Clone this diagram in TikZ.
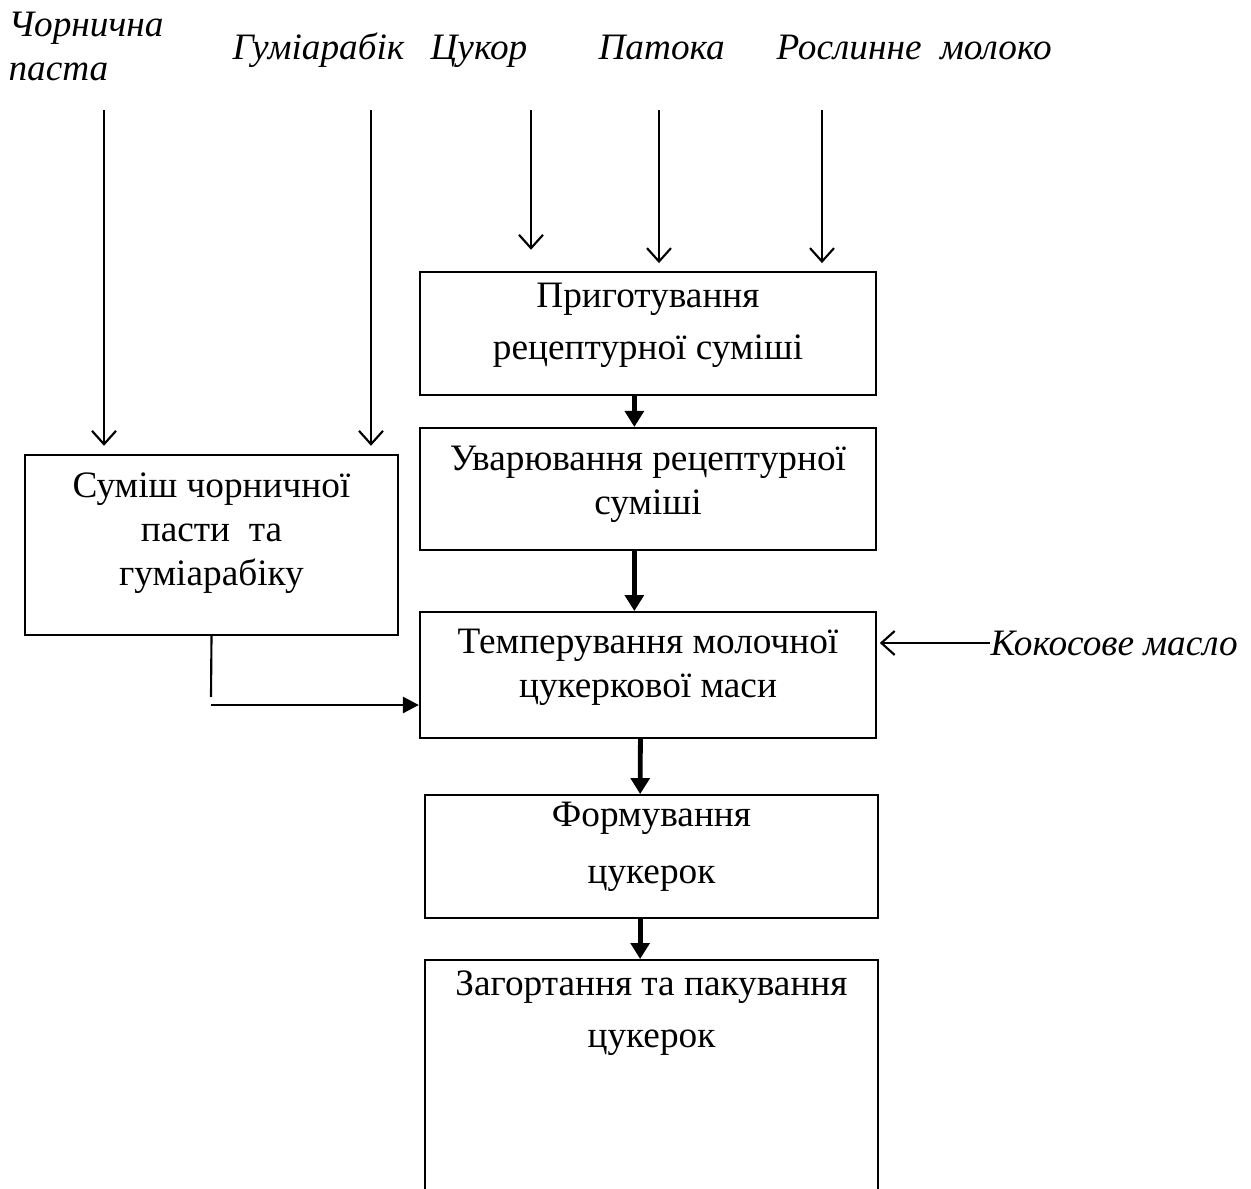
\documentclass[tikz,border=0pt]{standalone}
\usepackage{fontspec}
\setmainfont{Liberation Serif}
\usepackage{tikz}
\usetikzlibrary{positioning,arrows.meta}

\begin{document}
\begin{tikzpicture}[x=0.0132cm,y=-0.0132cm,
        stage/.style={draw, line width=0.8pt, minimum width=6.02cm, inner sep=0pt},
        txt/.style={align=center, inner sep=0pt, font=\fontsize{14}{16.5}\selectfont},
        lbl/.style={anchor=base west, inner sep=0pt, font=\fontsize{14}{16.5}\selectfont\itshape},
        feed/.style={line width=0.8pt, -{Straight Barb[length=5pt,width=9pt]}},
        flow/.style={line width=1.8pt, -{Triangle[length=6pt,width=7pt]}}]
        \useasboundingbox (0,0) rectangle (1251,1189);
        \clip (0,0) rectangle (1251,1189);
        % Сировина
        \node[lbl, anchor=north west, align=left] (bil) at (8,12) {Чорнична\\паста};
        \node[lbl] (gum) at (232,60) {Гуміарабік};
        \node[lbl] (suc) at (430,60) {Цукор};
        \node[lbl] (pat) at (598,60) {Патока};
        \node[lbl] (mil) at (776,60) {Рослинне\ \ молоко};
        \node[lbl, anchor=west] (oil) at (990,643) {Кокосове масло};
        \coordinate (in1) at (104,110);
        \coordinate (in2) at (371,110);
        \coordinate (in3) at (531,110);
        \coordinate (in4) at (659,110);
        \coordinate (in5) at (822,110);
        % Етапи
        \node[stage, minimum height=1.62cm] (prep) at (648,333.5) {};
        \node[txt, below=0.15cm of prep.north] {Приготування\\[3pt]рецептурної суміші};
        \node[stage, minimum height=1.61cm] (boil) at (648,489) {};
        \node[txt, below=0.24cm of boil.north] {Уварювання рецептурної\\суміші};
        \node[stage, minimum height=1.66cm] (temp) at (648,675) {};
        \node[txt, below=0.23cm of temp.north] {Темперування молочної\\цукеркової маси};
        \node[stage, minimum width=5.98cm, minimum height=1.62cm] (form) at (651.5,856.5) {};
        \node[txt, below=0.1cm of form.north] {Формування\\[5pt]цукерок};
        \node[stage, minimum width=5.98cm, minimum height=3.1cm] (pack) at (651.5,1077.5) {};
        \node[txt, below=0.15cm of pack.north] {Загортання та пакування\\[3pt]цукерок};
        \node[stage, minimum width=4.92cm, minimum height=2.38cm] (mix) at (211.5,545) {};
        \node[txt, below=0.24cm of mix.north] {Суміш чорничної\\пасти\ \ та\\гуміарабіку};
        \coordinate (c1) at (211,697);
        \coordinate (c2) at (211,705);
        % Стрілки
        \draw[feed] (in1) -- ([yshift=3pt]mix.north -| in1);
        \draw[feed] (in2) -- ([yshift=3pt]mix.north -| in2);
        \draw[feed] (in3) -- ([yshift=8pt]prep.north -| in3);
        \draw[feed] (in4) -- ([yshift=3pt]prep.north -| in4);
        \draw[feed] (in5) -- ([yshift=3pt]prep.north -| in5);
        \draw[feed] (oil.west) -- ([xshift=1pt]temp.east |- oil.west);
        \draw[flow] ([xshift=-0.18cm]prep.south) -- ([xshift=-0.18cm]boil.north);
        \draw[flow] ([xshift=-0.18cm]boil.south) -- ([xshift=-0.18cm]temp.north);
        \draw[flow] ([xshift=-0.1cm]temp.south) -- ([xshift=-0.15cm]form.north);
        \draw[flow] ([xshift=-0.15cm]form.south) -- ([xshift=-0.15cm]pack.north);
        \draw[line width=0.8pt] (mix.south) -- (c1);
        \draw[line width=1.1pt, -{Triangle[length=6pt,width=6pt]}] (c2) -- (temp.west |- c2);
    \end{tikzpicture}
\end{document}
